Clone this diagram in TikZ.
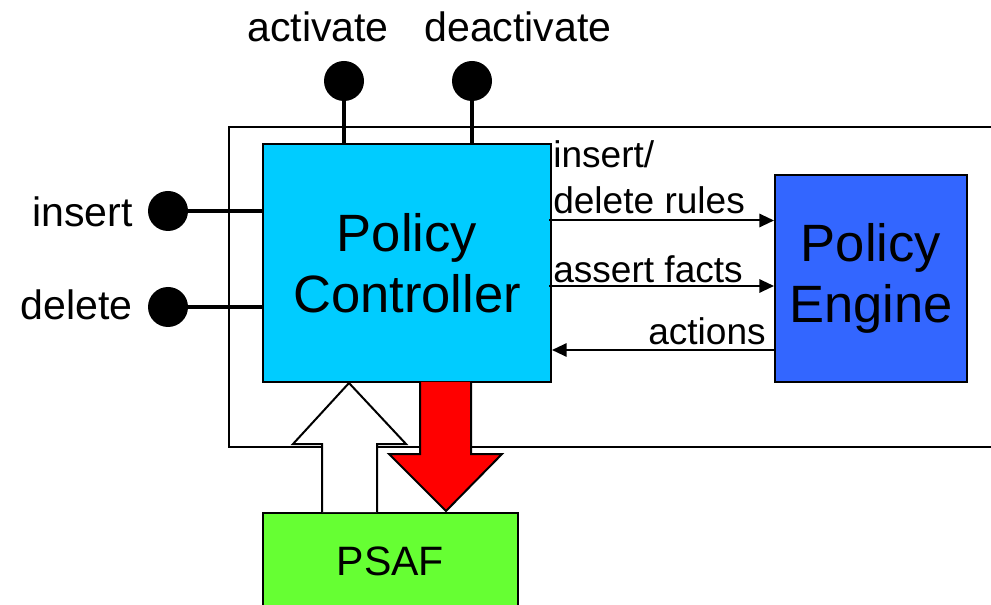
\documentclass[tikz,border=0pt]{standalone}
\usepackage{fontspec}
\setmainfont{Liberation Sans}
\usetikzlibrary{arrows.meta}
\definecolor{pccyan}{HTML}{00CCFF}
\definecolor{peblue}{HTML}{3366FF}
\definecolor{psgreen}{HTML}{66FF33}
\definecolor{arred}{HTML}{FF0000}
\tikzset{
  box/.style={draw=black,line width=1.5pt,inner sep=0pt,align=center},
  pin/.style={circle,fill=black,draw=none,minimum size=30pt,inner sep=0pt},
  stem/.style={line width=3pt},
  bigtext/.style={font=\fontsize{39.4}{46}\selectfont},
  medtext/.style={font=\fontsize{30.8}{36}\selectfont},
  smalltext/.style={font=\fontsize{27.8}{34.5}\selectfont,inner sep=0pt},
  flow/.style={line width=1.5pt,-{Triangle[length=11pt,width=10pt]}},
}
\begin{document}
\begin{tikzpicture}[x=0.75pt,y=-0.75pt]
\clip (0,0) rectangle (991,605);
\fill[white] (0,0) rectangle (991,605);
% outer frame
\draw[line width=1.2pt] (995,127) -- (229,127) -- (229,447) -- (995,447);
% boxes
\node[box,fill=pccyan,bigtext,minimum width=216pt,minimum height=178.5pt,anchor=north west] (pc) at (262,143) {Policy\\Controller};
\node[box,fill=peblue,bigtext,minimum width=144pt,minimum height=155pt,anchor=north west] (pe) at (774,174) {Policy\\Engine};
\node[box,fill=psgreen,medtext,minimum width=191pt,minimum height=72pt,anchor=north west] (ps) at (262,512) {PSAF};
% pins
\node[pin] (act) at (344,81) {};
\node[pin] (deact) at (472,81) {};
\node[pin] (ins) at (168,211) {};
\node[pin] (del) at (168,307) {};
\draw[stem] (act.center) -- (act.center |- pc.north);
\draw[stem] (deact.center) -- (deact.center |- pc.north);
\draw[stem] (ins.center) -- (ins.center -| pc.west);
\draw[stem] (del.center) -- (del.center -| pc.west);
% pin labels
\node[medtext,inner sep=0pt] (lact) at (318,27) {activate};
\node[medtext,inner sep=0pt] (ldeact) at (518,27) {deactivate};
\node[medtext,inner sep=0pt,anchor=east] (lins) at (133,212) {insert};
\node[medtext,inner sep=0pt,anchor=east] (ldel) at (133,305) {delete};
% flows between controller and engine
\coordinate (r1) at (549,220.5);
\coordinate (r2) at (549,286);
\coordinate (r3) at (774,350);
\draw[flow] (r1) -- (r1 -| pe.west);
\draw[flow] (r2) -- (r2 -| pe.west);
\draw[flow] (r3) -- (r3 -| pc.east);
\node[smalltext,align=left,anchor=south west] (lrules) at (553,214) {insert/\\delete rules};
\node[smalltext,anchor=base west] (lfacts) at (553,283) {assert facts};
\node[smalltext,anchor=base east] (lact2) at (766,345) {actions};
% block arrows
\draw[line width=1.5pt,fill=white] (322,512) -- (322,444) -- (293,444) -- (349,383) -- (406,444) -- (377,444) -- (377,512);
\draw[line width=1.5pt,fill=arred] (420,382) -- (420,454) -- (389,454) -- (446,511) -- (502,454) -- (471,454) -- (471,382);
\end{tikzpicture}
\end{document}
